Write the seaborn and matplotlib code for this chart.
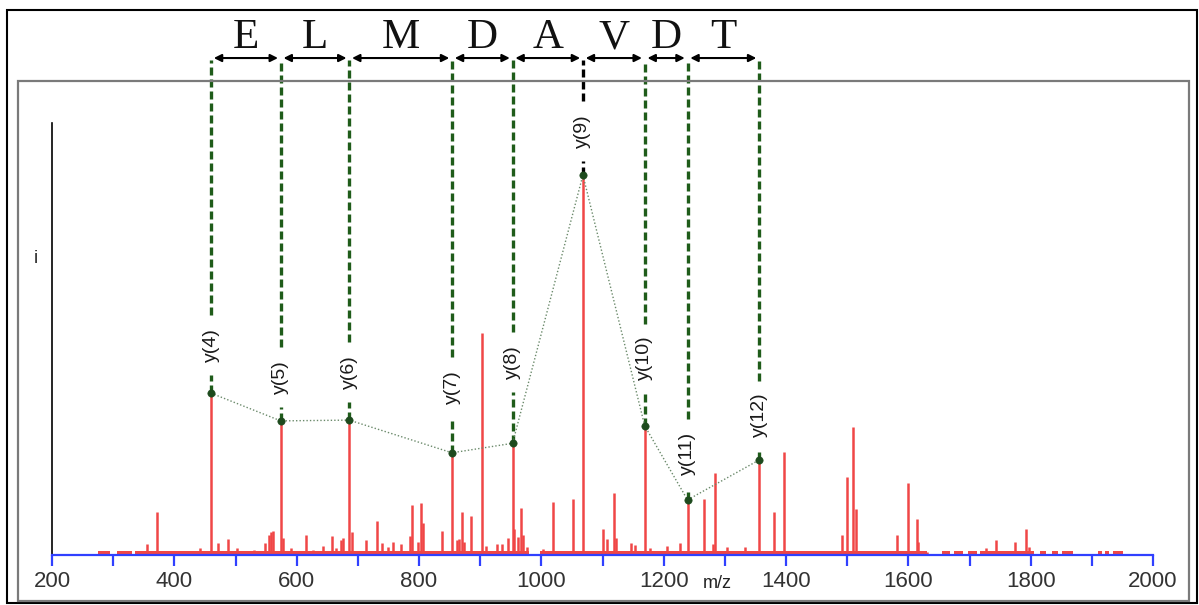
import matplotlib
matplotlib.use("Agg")
import matplotlib.pyplot as plt
from matplotlib.patches import Rectangle
import seaborn as sns

# ---------------- data ----------------
ion_labels = ["y(4)", "y(5)", "y(6)", "y(7)", "y(8)", "y(9)", "y(10)", "y(11)", "y(12)"]
ion_mz = [460, 574, 686, 854, 953, 1068, 1169, 1239, 1356]
ion_int = [42.6, 35.3, 35.5, 26.9, 29.4, 100.0, 34.0, 14.5, 25.0]
ion_label_y = [55.3, 46.8, 48.2, 44.2, 50.8, 111.6, 51.8, 26.8, 36.8]

residues = ["E", "L", "M", "D", "A", "V", "D", "T"]

other_mz = [356, 371, 428, 442, 471, 488, 502, 530, 548, 554, 558, 561, 577, 590,
            615, 627, 643, 657, 665, 672, 676, 690, 714, 732, 739, 750, 757, 771,
            785, 789, 799, 803, 807, 829, 838, 862, 865, 870, 874, 885, 903, 910,
            927, 935, 945, 956, 962, 966, 970, 976, 1003, 1019, 1051, 1101, 1107,
            1119, 1122, 1147, 1153, 1178, 1205, 1227, 1266, 1281, 1284, 1303, 1333,
            1380, 1397, 1492, 1500, 1510, 1514, 1581, 1599, 1614, 1616, 1630, 1727,
            1744, 1774, 1793, 1797]
other_int = [2.9, 11.4, 1.1, 1.8, 3.1, 4.2, 1.8, 1.3, 3.1, 5.3, 6.1, 6.4, 4.5, 1.8,
             5.3, 1.3, 2.4, 5.1, 1.8, 4.0, 4.4, 6.1, 4.0, 9.0, 3.2, 2.2, 3.3, 2.8,
             5.0, 13.2, 3.3, 13.6, 8.5, 1.1, 6.3, 4.0, 4.2, 11.4, 3.5, 10.3, 58.5, 2.4,
             3.0, 2.8, 4.4, 6.8, 4.7, 12.5, 5.3, 2.2, 1.5, 14.0, 14.7, 6.8, 4.2,
             16.4, 4.4, 3.1, 2.6, 1.8, 2.4, 3.1, 14.7, 2.8, 21.7, 2.0, 2.2,
             11.4, 27.2, 5.3, 20.4, 33.6, 12.0, 5.3, 18.9, 9.6, 3.5, 0.9, 1.8,
             4.0, 3.3, 6.8, 2.2]

noise_start = [275, 306, 336, 998, 1655, 1675, 1698, 1717, 1815, 1835, 1852, 1910, 1922, 1935]
noise_end = [295, 331, 980, 1630, 1668, 1690, 1712, 1805, 1825, 1845, 1869, 1916, 1928, 1951]
noise_level = 1.0

major_ticks = [200, 400, 600, 800, 1000, 1200, 1400, 1600, 1800, 2000]
minor_ticks = [300, 500, 700, 900, 1100, 1300, 1500, 1700, 1900]

# ---------------- style ----------------
sns.set_theme(style="white")
plt.rcParams["font.family"] = ["Liberation Sans", "DejaVu Sans"]

W, H = 1199, 605
fig = plt.figure(figsize=(W / 100, H / 100), dpi=100)
fig.patch.set_facecolor("white")

ax = fig.add_axes([52 / W, 50 / H, (1153 - 52) / W, (555 - 123) / H])
ax.set_facecolor("none")
ax.set_xlim(200, 2000)
ax.set_ylim(0, 113.7)

red = "#f04646"
blue = "#3040ff"
dgreen = "#1f5c1a"
top_y = 130.3
arrow_y = 130.8
letter_y = 133.4

# noise floor
for s, e in zip(noise_start, noise_end):
    ax.fill_between([s, e], 0, noise_level, color=red, lw=0, zorder=1)

# peaks
ax.vlines(other_mz, 0, other_int, color=red, lw=1.8, zorder=2)
ax.vlines(ion_mz, 0, ion_int, color=red, lw=1.8, zorder=2)

# connecting dotted line and dots
sns.lineplot(x=ion_mz, y=ion_int, ax=ax, color="#6b8a6b", lw=1.0,
             linestyle=(0, (1, 1.5)), zorder=4)
sns.scatterplot(x=ion_mz, y=ion_int, ax=ax, s=28, color="#1d4a1d",
                edgecolor="#1d4a1d", zorder=6, clip_on=False)

# dashed guide lines with gap for labels
for lab, x, yi, ly in zip(ion_labels, ion_mz, ion_int, ion_label_y):
    col = "black" if lab == "y(9)" else dgreen
    hg = (len(lab) * 9 / 2 + 12) / 3.8
    ax.plot([x, x], [ly + hg, top_y], color=col, lw=2.4,
            linestyle=(0, (2.4, 1.2)), clip_on=False, zorder=3)
    if ly - hg > yi:
        ax.plot([x, x], [yi, ly - hg], color=col, lw=2.4,
                linestyle=(0, (2.4, 1.2)), clip_on=False, zorder=3)
    ax.text(x, ly, lab, rotation=90, ha="center", va="center", fontsize=14,
            color="#1a1a1a", clip_on=False, zorder=7)

# arrows and residue letters
for i, res in enumerate(residues):
    x1, x2 = ion_mz[i], ion_mz[i + 1]
    ax.annotate("", xy=(x2, arrow_y), xytext=(x1, arrow_y), xycoords="data",
                arrowprops=dict(arrowstyle="<|-|>", color="black", lw=1.5,
                                mutation_scale=11, shrinkA=2, shrinkB=2),
                annotation_clip=False)
    ax.text((x1 + x2) / 2, letter_y, res, ha="center", va="baseline",
            fontsize=31, family=["Liberation Serif", "DejaVu Serif"],
            color="#111111", clip_on=False)

# axes styling
for side in ["top", "right"]:
    ax.spines[side].set_visible(False)
ax.spines["bottom"].set_color(blue)
ax.spines["bottom"].set_linewidth(1.6)
ax.spines["bottom"].set_zorder(3)
ax.spines["left"].set_color("black")
ax.spines["left"].set_linewidth(1.2)
ax.set_xticks(major_ticks)
ax.set_xticks(minor_ticks, minor=True)
ax.set_xticklabels([str(t) for t in major_ticks])
ax.tick_params(axis="x", which="both", bottom=True, direction="out", length=8,
               width=1.6, color=blue, labelsize=16, labelcolor="#333333", pad=3.5)
ax.tick_params(axis="y", left=False, labelleft=False)
ax.set_yticks([])
ax.grid(False)

# axis labels
fig.text(717 / W, 1 - 583 / H, "m/z", ha="center", va="center", fontsize=13, color="#222222")
fig.text(36 / W, 1 - 259 / H, "i", ha="center", va="center", fontsize=13, color="#222222")

# frames
fig.add_artist(Rectangle((7 / W, 1 - 603 / H), (1197 - 7) / W, (603 - 10) / H,
                         transform=fig.transFigure, fill=False, ec="black", lw=1.5))
fig.add_artist(Rectangle((18 / W, 1 - 601 / H), (1189 - 18) / W, (601 - 81) / H,
                         transform=fig.transFigure, fill=False, ec="#7a7a7a", lw=1.6))

fig.savefig("out.png", dpi=100)
